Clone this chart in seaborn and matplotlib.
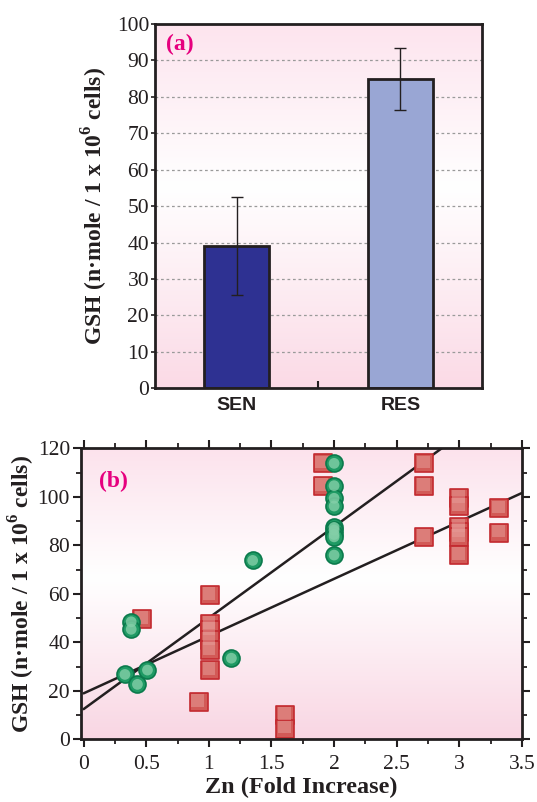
import numpy as np
import matplotlib
matplotlib.use("Agg")
import matplotlib.pyplot as plt
from matplotlib.colors import LinearSegmentedColormap
from matplotlib.ticker import MultipleLocator, FixedLocator
import seaborn as sns

# panel (a): GSH level per cell line
groups = ["SEN", "RES"]
gsh_mean = [39, 85]
gsh_err = [13.5, 8.5]
bar_colors = ["#2e3192", "#99a6d4"]

# panel (b): GSH vs Zn fold increase
circle_zn = [0.33, 0.43, 0.51, 0.38, 0.38, 1.18, 1.35,
             2.0, 2.0, 2.0, 2.0, 2.0, 2.0, 2.0, 2.0, 2.0]
circle_gsh = [26.8, 22.7, 28.6, 48.5, 45.4, 33.5, 73.8,
              113.8, 104.6, 99.4, 96.2, 87.4, 86.3, 84.5, 83.5, 76.0]
square_zn = [0.47, 1.01, 1.01, 1.01, 1.01, 1.01, 1.01, 0.92, 1.61, 1.61,
             1.91, 1.91, 2.72, 2.72, 2.72, 3.0, 3.0, 3.0, 3.0, 3.0, 3.0,
             3.32, 3.32]
square_gsh = [49.5, 59.5, 47.5, 45.0, 41.0, 37.0, 28.6, 15.5, 10.0, 4.5,
              113.8, 104.6, 113.8, 104.6, 83.5, 99.6, 96.2, 87.7, 85.6, 83.6, 76.0,
              95.2, 85.3]
# fitted lines (intercept, slope)
fit_intercepts = [12.5, 19.0]
fit_slopes = [37.6, 23.6]

sns.set_style("ticks")
plt.rcParams["font.family"] = ["Liberation Serif", "DejaVu Serif"]
plt.rcParams["mathtext.fontset"] = "custom"
plt.rcParams["mathtext.rm"] = "Liberation Serif"
plt.rcParams["mathtext.bf"] = "Liberation Serif:bold"

ink = "#231f20"
ylab = r"GSH (n·mole / 1 x 10$^{\mathbf{6}}$ cells)"


def pink_background(ax, top, bottom):
    cmap = LinearSegmentedColormap.from_list(
        "pk", [(0, bottom), (0.55, "#ffffff"), (1, top)])
    grad = np.linspace(0, 1, 512).reshape(-1, 1)
    ax.imshow(grad, cmap=cmap, origin="lower", aspect="auto",
              interpolation="bilinear",
              extent=[0, 1, 0, 1], transform=ax.transAxes, zorder=0)


fig = plt.figure(figsize=(5.37, 8.02), dpi=100)

# ---- panel (a)
ax1 = fig.add_axes([0.288, 0.516, 0.610, 0.454])
pink_background(ax1, "#fde4ee", "#fbdae6")
for v in range(10, 100, 10):
    ax1.axhline(v, color="#9a9a9a", lw=0.9, ls=(0, (2.2, 2.2)), zorder=1)
sns.barplot(x=groups, y=gsh_mean, hue=groups, palette=bar_colors, legend=False,
            saturation=1, width=0.4, edgecolor=ink, linewidth=2, ax=ax1, zorder=2)
ax1.errorbar(range(len(groups)), gsh_mean, yerr=gsh_err, fmt="none",
             ecolor=ink, elinewidth=1, capsize=4.5, capthick=1, zorder=3)
ax1.set_xlim(-0.5, 1.5)
ax1.set_ylim(0, 100)
ax1.yaxis.set_major_locator(MultipleLocator(10))
ax1.tick_params(axis="y", direction="out", length=3, width=1.2, pad=1,
                labelsize=15.5, color=ink, labelcolor=ink)
ax1.tick_params(axis="x", which="major", length=0, pad=6)
ax1.xaxis.set_minor_locator(FixedLocator([0.5]))
ax1.tick_params(axis="x", which="minor", direction="in", length=5, width=1.5, color=ink)
for lab in ax1.get_xticklabels():
    lab.set_fontfamily("Liberation Sans")
    lab.set_fontweight("bold")
    lab.set_fontsize(14)
    lab.set_color(ink)
for sp in ax1.spines.values():
    sp.set_visible(True)
    sp.set_linewidth(2)
    sp.set_color(ink)
    sp.set_zorder(5)
ax1.set_xlabel("")
ax1.set_ylabel(ylab, fontsize=17, fontweight="bold", color=ink)
ax1.yaxis.set_label_coords(-0.135, 0.5)
ax1.text(0.035, 0.945, "(a)", transform=ax1.transAxes, color="#e6007e",
         fontsize=17, fontweight="bold", va="center", ha="left", zorder=6)

# ---- panel (b)
ax2 = fig.add_axes([0.151, 0.078, 0.821, 0.363])
pink_background(ax2, "#fce2ec", "#f9d6e3")
xs = np.array([0.0, 3.5])
for a, b in zip(fit_intercepts, fit_slopes):
    sns.lineplot(x=xs, y=a + b * xs, color=ink, lw=1.8, ax=ax2, zorder=2)

sns.scatterplot(x=square_zn, y=square_gsh, marker="s", s=150, color="#d25a57",
                edgecolor="#c3292f", linewidth=1.2, ax=ax2, zorder=3)
sns.scatterplot(x=np.array(square_zn) - 0.008, y=np.array(square_gsh) + 0.6,
                marker="s", s=85, color="#e69a96", edgecolor="none", alpha=0.55,
                ax=ax2, zorder=3)
sns.scatterplot(x=circle_zn, y=circle_gsh, marker="o", s=150, color="#1f9a64",
                edgecolor="#0b7a4c", linewidth=1.2, ax=ax2, zorder=4)
sns.scatterplot(x=circle_zn, y=circle_gsh, marker="o", s=60, color="#84cfa8",
                edgecolor="none", alpha=0.8, ax=ax2, zorder=4)

ax2.set_xlim(-0.02, 3.5)
ax2.set_ylim(0, 120)
ax2.xaxis.set_minor_locator(MultipleLocator(0.25))
ax2.yaxis.set_major_locator(MultipleLocator(20))
ax2.yaxis.set_minor_locator(MultipleLocator(10))
ax2.set_xticks(np.arange(0, 3.51, 0.5))
ax2.set_xticklabels(["0", "0.5", "1", "1.5", "2", "2.5", "3", "3.5"])
ax2.tick_params(which="both", direction="out", top=True, right=True,
                color=ink, labelcolor=ink, labelsize=15.5)
ax2.tick_params(which="major", length=6, width=1.5)
ax2.tick_params(which="minor", length=3.5, width=1.3)
ax2.tick_params(axis="x", pad=5)
ax2.tick_params(axis="y", pad=2)
for sp in ax2.spines.values():
    sp.set_visible(True)
    sp.set_linewidth(2)
    sp.set_color(ink)
    sp.set_zorder(5)
ax2.set_xlabel("Zn (Fold Increase)", fontsize=17.5, fontweight="bold", color=ink)
ax2.set_ylabel(ylab, fontsize=17, fontweight="bold", color=ink)
ax2.yaxis.set_label_coords(-0.1, 0.5)
ax2.xaxis.set_label_coords(0.5, -0.13)
ax2.text(0.041, 0.885, "(b)", transform=ax2.transAxes, color="#e6007e",
         fontsize=17, fontweight="bold", va="center", ha="left", zorder=6)

fig.savefig("out.png", dpi=100)
